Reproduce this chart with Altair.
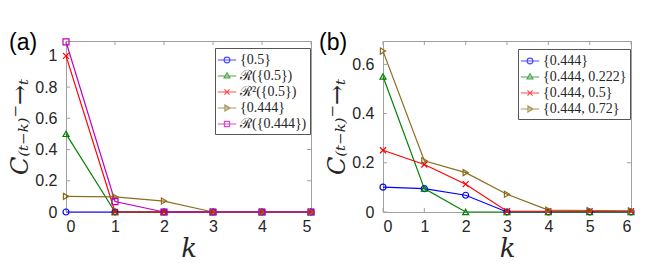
import altair as alt
import pandas as pd

# ---- data ----
ks_a = [0, 1, 2, 3, 4, 5]
series_a = ["{0.5}", "ℛ({0.5})", "ℛ²({0.5})", "{0.444}", "ℛ({0.444})"]
a_vals = [
    [0, 0, 0, 0, 0, 0],
    [0.5, 0, 0, 0, 0, 0],
    [1.0, 0, 0, 0, 0, 0],
    [0.1, 0.097, 0.07, 0, 0, 0],
    [1.09, 0.067, 0, 0, 0, 0],
]
colors_a = ["#0000ff", "#008000", "#ff0000", "#8c6d1f", "#bf00bf"]

ks_b = [0, 1, 2, 3, 4, 5, 6]
series_b = ["{0.444}", "{0.444, 0.222}", "{0.444, 0.5}", "{0.444, 0.72}"]
b_vals = [
    [0.101, 0.095, 0.068, 0, 0, 0, 0],
    [0.551, 0.095, 0, 0, 0, 0, 0],
    [0.251, 0.193, 0.113, 0.003, 0.003, 0.003, 0.003],
    [0.654, 0.208, 0.16, 0.072, 0.008, 0.006, 0.005],
]
colors_b = ["#0000ff", "#008000", "#ff0000", "#8c6d1f"]

X_PATH = "M-1,-1L1,1M-1,1L1,-1"
shapes_a = ["circle", "triangle-up", X_PATH, "triangle-right", "square"]
shapes_b = ["circle", "triangle-up", X_PATH, "triangle-right"]

# legend symbols: a short line with the marker on it
LINE = "M-1.15,0L1.15,0"
L_CIRC = LINE + "M-0.36,0A0.36,0.36 0 1,1 0.36,0A0.36,0.36 0 1,1 -0.36,0Z"
L_TRI = LINE + "M0,-0.4L0.36,0.24L-0.36,0.24Z"
L_X = LINE + "M-0.32,-0.32L0.32,0.32M-0.32,0.32L0.32,-0.32"
L_TRR = LINE + "M-0.26,-0.36L0.38,0L-0.26,0.36Z"
L_SQ = LINE + "M-0.32,-0.32L0.32,-0.32L0.32,0.32L-0.32,0.32Z"
legshapes_a = [L_CIRC, L_TRI, L_X, L_TRR, L_SQ]
legshapes_b = [L_CIRC, L_TRI, L_X, L_TRR]

yticks_a = [0, 0.2, 0.4, 0.6, 0.8, 1]
yticks_b = [0, 0.2, 0.4, 0.6]

YTITLE = "C₍ₜ₋ₖ₎⁻→ₜ"
TICK_FONT = "Liberation Sans"
SERIF = "DejaVu Serif"
LEG_FONT = "Liberation Serif"
FRAME = "#a0a0a0"


def make_df(ks, names, vals):
    rows = []
    for i, (n, v) in enumerate(zip(names, vals)):
        for k, y in zip(ks, v):
            rows.append({"k": k, "C": y, "series": n, "idx": i})
    return pd.DataFrame(rows)


def color_expr(names, colors):
    expr = "'#000000'"
    for n, c in reversed(list(zip(names, colors))):
        expr = f"datum.value === '{n}' ? '{c}' : ({expr})"
    return expr


def panel(ks, names, vals, colors, shapes, legshapes, yticks, ymax, w, h, label, labx, legx, legy):
    df = make_df(ks, names, vals)
    xs = alt.Scale(domain=[ks[0], ks[-1]], nice=False, zero=False)
    ys = alt.Scale(domain=[0, ymax], nice=False)
    cs = alt.Scale(domain=names, range=colors)
    ss = alt.Scale(domain=names, range=shapes)
    ls = alt.Scale(domain=names, range=legshapes)
    xax = alt.Axis(values=ks, ticks=False, domain=False, grid=False, labelFont=TICK_FONT,
                   labelFontSize=16, labelColor="#262626", labelPadding=6, labelOverlap=False,
                   title="k", titleFont=SERIF, titleFontStyle="italic", titleFontWeight="normal",
                   titleFontSize=26, titleColor="#262626", titlePadding=1)
    yax = alt.Axis(values=yticks, format="~g", ticks=False, domain=False, grid=False,
                   labelFont=TICK_FONT, labelFontSize=16, labelColor="#262626", labelPadding=9,
                   labelOverlap=False,
                   title=YTITLE, titleFont=SERIF, titleFontStyle="italic", titleFontWeight="normal",
                   titleFontSize=24, titleColor="#262626", titlePadding=2)
    base = alt.Chart(df)
    lines = base.mark_line(strokeWidth=1.2).encode(
        x=alt.X("k:Q", scale=xs, axis=xax),
        y=alt.Y("C:Q", scale=ys, axis=yax),
        color=alt.Color("series:N", scale=cs, legend=None),
        detail="series:N",
        order="idx:Q",
    )
    pts = base.mark_point(filled=False, strokeWidth=1.2, size=36, opacity=1).encode(
        x=alt.X("k:Q", scale=xs, axis=xax),
        y=alt.Y("C:Q", scale=ys, axis=yax),
        color=alt.Color("series:N", scale=cs, legend=None),
        shape=alt.Shape("series:N", scale=ss, legend=None),
    )
    leg = base.transform_filter("false").mark_point(filled=False, strokeWidth=1.2).encode(
        shape=alt.Shape("series:N", scale=ls, legend=alt.Legend(
            title=None, orient="none", legendX=legx, legendY=legy,
            symbolSize=256, symbolStrokeWidth=1.2, symbolFillColor="transparent",
            symbolStrokeColor=alt.ExprRef(expr=color_expr(names, colors)),
            labelFont=LEG_FONT, labelFontSize=14, labelColor="#262626", labelOffset=4,
            rowPadding=0, padding=3, strokeColor="#555555", fillColor="white",
            labelLimit=300)),
    )
    xt = pd.DataFrame({"k": ks})
    yt = pd.DataFrame({"C": yticks})
    tick_b = alt.Chart(xt).mark_rule(color=FRAME, strokeWidth=1).encode(
        x=alt.X("k:Q", scale=xs, axis=xax), y=alt.value(h), y2=alt.value(h - 4))
    tick_t = alt.Chart(xt).mark_rule(color=FRAME, strokeWidth=1).encode(
        x=alt.X("k:Q", scale=xs, axis=xax), y=alt.value(0), y2=alt.value(4))
    tick_l = alt.Chart(yt).mark_rule(color=FRAME, strokeWidth=1).encode(
        y=alt.Y("C:Q", scale=ys, axis=yax), x=alt.value(0), x2=alt.value(4))
    tick_r = alt.Chart(yt).mark_rule(color=FRAME, strokeWidth=1).encode(
        y=alt.Y("C:Q", scale=ys, axis=yax), x=alt.value(w), x2=alt.value(w - 4))
    lab = alt.Chart(pd.DataFrame({"t": [label]})).mark_text(
        font=TICK_FONT, fontSize=23, color="#000000", align="left", baseline="middle"
    ).encode(text="t:N", x=alt.value(labx), y=alt.value(2))
    return alt.layer(lines, tick_b, tick_t, tick_l, tick_r, pts, leg, lab).resolve_scale(
        shape="independent").properties(width=w, height=h)


left = panel(ks_a, series_a, a_vals, colors_a, shapes_a, legshapes_a, yticks_a, 1.095,
             245, 171, "(a)", -57, 149, 7)
right = panel(ks_b, series_b, b_vals, colors_b, shapes_b, legshapes_b, yticks_b, 0.695,
              248, 171, "(b)", -64, 135, 8)

chart = alt.hconcat(left, right, spacing=72, bounds="flush").resolve_scale(
    color="independent", shape="independent", x="independent", y="independent"
).configure_view(stroke=FRAME, strokeWidth=1).configure_axis(labelOverlap=False).properties(
    padding={"left": 0, "top": 23, "right": 0, "bottom": 0}, background="white")

chart.save("out.html", embed_options={"renderer": "svg", "actions": False})
